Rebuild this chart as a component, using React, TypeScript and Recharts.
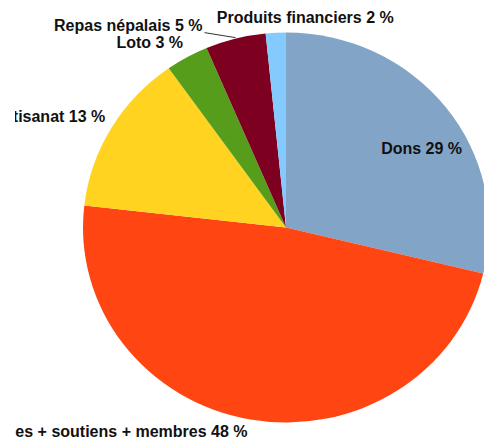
import { PieChart, Pie, Cell, Sector } from "recharts";

const names = [
  "Dons",
  "Parrainages + soutiens + membres",
  "Artisanat",
  "Loto",
  "Repas népalais",
  "Produits financiers",
];
const values = [28.8, 48.0, 13.4, 3.4, 4.8, 1.6];
const percents = [29, 48, 13, 3, 5, 2];
const colors = ["#82a4c6", "#ff4511", "#ffd320", "#579d1c", "#7e0021", "#83caff"];

// label placement relative to the middle of each slice's outer arc
const labelLayout = [
  { dx: -24, dy: 47, anchor: "middle", leader: false },
  { dx: -3, dy: 18, anchor: "end", leader: false },
  { dx: -6, dy: -6, anchor: "end", leader: false },
  { dx: -4, dy: -9, anchor: "end", leader: false },
  { dx: -33, dy: -8, anchor: "end", leader: true },
  { dx: -59, dy: -10, anchor: "start", leader: false },
];

const data = names.map((name, i) => ({ name, value: values[i], pct: percents[i] }));

const CX = 286;
const CY = 227.5;
const R = 195;
const STRETCH = 203 / 195; // the original pie is a little wider than tall
const RAD = Math.PI / 180;
const LEFT_CLIP = 15; // the source image is cropped a bit on the left

function EllipseSector(props: any) {
  const { cx, cy } = props;
  return (
    <g transform={`translate(${cx} ${cy}) scale(${STRETCH} 1) translate(${-cx} ${-cy})`}>
      <Sector {...props} stroke="none" />
    </g>
  );
}

function renderLabel(props: any) {
  const { cx, cy, midAngle, outerRadius, index } = props;
  const ax = cx + outerRadius * STRETCH * Math.cos(-midAngle * RAD);
  const ay = cy + outerRadius * Math.sin(-midAngle * RAD);
  const l = labelLayout[index];
  const x = ax + l.dx;
  const y = ay + l.dy;
  const clipId = `lbl-clip-${index}`;
  return (
    <g key={`lbl-${index}`}>
      <defs>
        <clipPath id={clipId}>
          <rect x={LEFT_CLIP} y={0} width={484} height={442} />
        </clipPath>
      </defs>
      {l.leader ? (
        <line x1={x + 2} y1={y + 2} x2={ax} y2={ay - 1} stroke="#333" strokeWidth={1} />
      ) : null}
      <text
        x={x}
        y={y}
        textAnchor={l.anchor}
        fill="#111"
        fontFamily="'Liberation Sans', Arial, sans-serif"
        fontWeight="bold"
        fontSize={16}
        clipPath={`url(#${clipId})`}
      >
        {`${data[index].name} ${data[index].pct} %`}
      </text>
    </g>
  );
}

export default function App() {
  return (
    <div style={{ position: "absolute", left: 0, top: 0, background: "#fff" }}>
      <PieChart width={484} height={442} margin={{ top: 0, right: 0, bottom: 0, left: 0 }}>
        <Pie
          data={data}
          dataKey="value"
          nameKey="name"
          cx={CX}
          cy={CY}
          outerRadius={R}
          startAngle={90}
          endAngle={-270}
          stroke="none"
          shape={EllipseSector}
          label={renderLabel}
          labelLine={false}
          isAnimationActive={false}
        >
          {data.map((d, i) => (
            <Cell key={d.name} fill={colors[i]} />
          ))}
        </Pie>
      </PieChart>
    </div>
  );
}
